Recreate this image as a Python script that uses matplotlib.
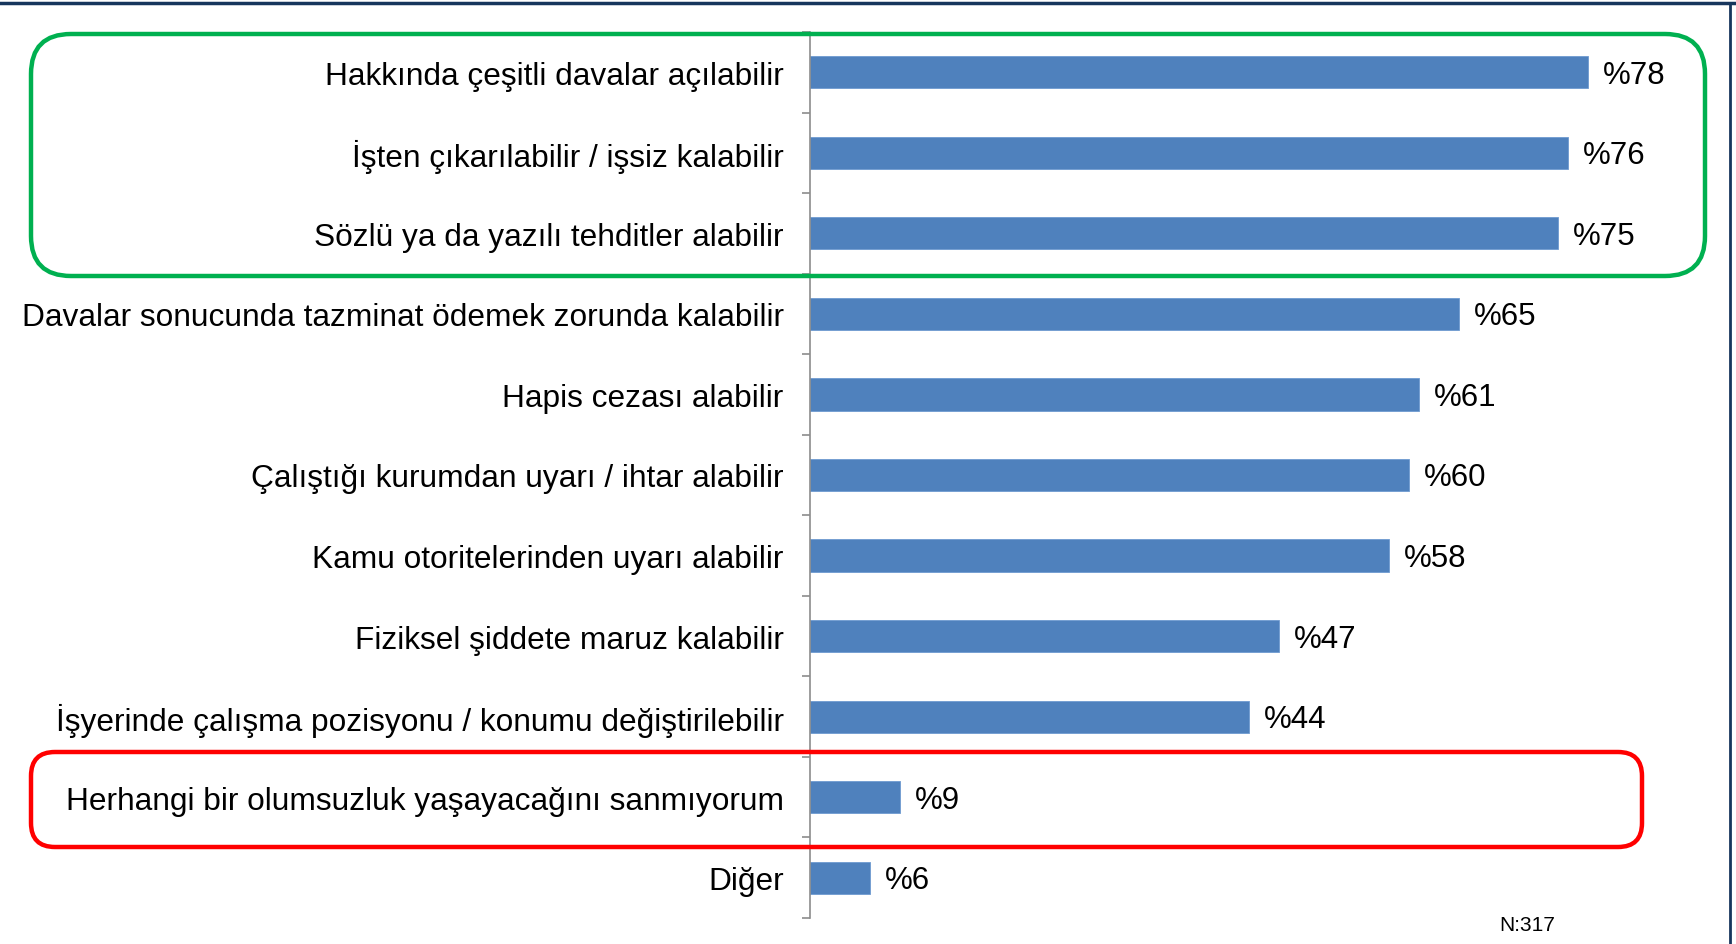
import matplotlib
matplotlib.use("Agg")
import matplotlib.pyplot as plt
from matplotlib.patches import FancyBboxPatch
from matplotlib.lines import Line2D

plt.rcParams['font.family'] = ['Liberation Sans', 'DejaVu Sans']

labels = [
    "Hakkında çeşitli davalar açılabilir",
    "İşten çıkarılabilir / işsiz kalabilir",
    "Sözlü ya da yazılı tehditler alabilir",
    "Davalar sonucunda tazminat ödemek zorunda kalabilir",
    "Hapis cezası alabilir",
    "Çalıştığı kurumdan uyarı / ihtar alabilir",
    "Kamu otoritelerinden uyarı alabilir",
    "Fiziksel şiddete maruz kalabilir",
    "İşyerinde çalışma pozisyonu / konumu değiştirilebilir",
    "Herhangi bir olumsuzluk yaşayacağını sanmıyorum",
    "Diğer",
]
values = [78, 76, 75, 65, 61, 60, 58, 47, 44, 9, 6]
note = "N:317"

W, H, DPI = 1736, 945, 100
fig = plt.figure(figsize=(W / DPI, H / DPI), dpi=DPI)
fig.patch.set_facecolor('white')

# axes placed in pixel terms
ax_left, ax_top, ax_bottom = 810, 33, 919
ax = fig.add_axes([ax_left / W, 1 - ax_bottom / H, 1 - ax_left / W, (ax_bottom - ax_top) / H])

pos = list(range(len(values)))
ax.barh(pos, values, height=0.4, color='#4F81BD', edgecolor='#6F9AD0', linewidth=0.6)
ax.set_xlim(0, 92.8)
ax.set_ylim(len(values) - 0.5, -0.5)

for y, v in zip(pos, values):
    ax.text(v + 1.5, y + 0.03, "%{}".format(v), va='center', ha='left', fontsize=22.5)

# ticks at the category boundaries, labels at the centres
ax.set_yticks([p - 0.5 for p in range(len(values) + 1)])
ax.set_yticklabels([])
ax.set_yticks(pos, minor=True)
ax.set_yticklabels(labels, minor=True, fontsize=22.8)
ax.tick_params(axis='y', which='major', length=6, width=1.2, color='#8c8c8c', direction='out')
ax.tick_params(axis='y', which='minor', length=0, pad=19)
ax.set_xticks([])
for s in ['top', 'right', 'bottom']:
    ax.spines[s].set_visible(False)
ax.spines['left'].set_color('#8c8c8c')
ax.spines['left'].set_linewidth(1.2)
ax.patch.set_alpha(0)


def px_box(x0, y0, x1, y1, color, r):
    # pixel coords (top-left origin) converted to inches for dpi_scale_trans
    box = FancyBboxPatch((x0 / DPI, (H - y1) / DPI), (x1 - x0) / DPI, (y1 - y0) / DPI,
                         boxstyle="round,pad=0,rounding_size={}".format(r / DPI),
                         transform=fig.dpi_scale_trans, fill=False,
                         edgecolor=color, linewidth=3.2, zorder=5)
    fig.patches.append(box)


px_box(31, 35, 1705, 277, '#00B050', 40)
px_box(31, 753, 1642, 848, '#FF0000', 24)

# slide frame lines
fig.add_artist(Line2D([0, 1], [1 - 4 / H, 1 - 4 / H], transform=fig.transFigure,
                      color='#17365D', linewidth=2.5))
fig.add_artist(Line2D([1730 / W, 1730 / W], [0, 1 - 4 / H], transform=fig.transFigure,
                      color='#17365D', linewidth=2.0))

fig.text(1499 / W, 1 - 926 / H, note, fontsize=15, va='center', ha='left')

fig.savefig('out.png', dpi=DPI)
